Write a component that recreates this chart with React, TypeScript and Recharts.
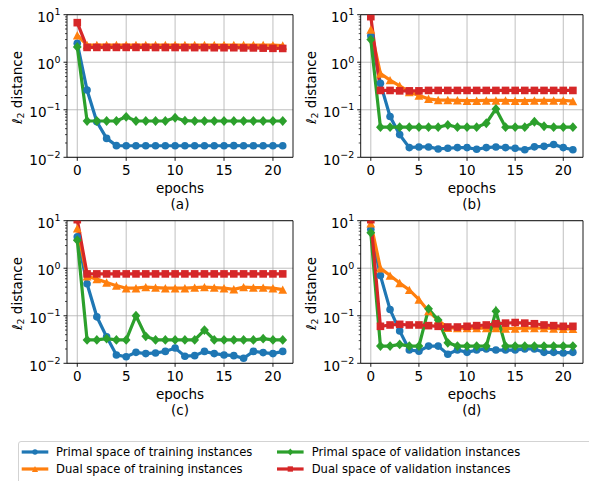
import React from 'react';
import { LineChart, Line, XAxis, YAxis, CartesianGrid, ReferenceArea } from 'recharts';

// ---------- data ----------
const epochs = [0, 1, 2, 3, 4, 5, 6, 7, 8, 9, 10, 11, 12, 13, 14, 15, 16, 17, 18, 19, 20, 21];

// (a)
const primalTrainA = [2.5, 0.26, 0.056, 0.025, 0.0176, 0.0175, 0.0175, 0.0175, 0.0175, 0.0175, 0.0175, 0.0175, 0.0175, 0.0175, 0.0175, 0.0175, 0.0176, 0.0175, 0.0175, 0.0175, 0.0175, 0.0175];
const dualTrainA = [3.7, 2.3, 2.3, 2.3, 2.3, 2.3, 2.3, 2.3, 2.3, 2.3, 2.3, 2.3, 2.3, 2.3, 2.3, 2.3, 2.3, 2.3, 2.3, 2.3, 2.28, 2.25];
const primalValA = [2.1, 0.058, 0.058, 0.058, 0.058, 0.071, 0.058, 0.058, 0.058, 0.058, 0.068, 0.059, 0.058, 0.058, 0.058, 0.058, 0.058, 0.058, 0.058, 0.058, 0.058, 0.058];
const dualValA = [6.8, 2.05, 2.05, 2.05, 2.05, 2.05, 2.05, 2.05, 2.04, 2.04, 2.04, 2.03, 2.03, 2.03, 2.02, 2.02, 2.02, 2.0, 2.0, 1.98, 1.96, 1.95];

// (b)
const primalTrainB = [3.6, 0.36, 0.072, 0.03, 0.016, 0.0165, 0.0165, 0.015, 0.0155, 0.016, 0.016, 0.0148, 0.016, 0.0165, 0.016, 0.0155, 0.0144, 0.0166, 0.017, 0.0186, 0.016, 0.0144];
const dualTrainB = [4.9, 0.58, 0.42, 0.32, 0.237, 0.2, 0.17, 0.16, 0.16, 0.158, 0.155, 0.155, 0.157, 0.157, 0.157, 0.155, 0.155, 0.157, 0.157, 0.157, 0.157, 0.152];
const primalValB = [3.0, 0.043, 0.043, 0.043, 0.043, 0.043, 0.043, 0.043, 0.048, 0.043, 0.043, 0.043, 0.052, 0.104, 0.043, 0.043, 0.043, 0.056, 0.045, 0.043, 0.043, 0.043];
const dualValB = [9.1, 0.255, 0.255, 0.25, 0.25, 0.25, 0.255, 0.255, 0.255, 0.255, 0.255, 0.255, 0.255, 0.255, 0.255, 0.255, 0.255, 0.255, 0.255, 0.255, 0.255, 0.255];

// (c)
const primalTrainC = [4.6, 0.47, 0.095, 0.036, 0.015, 0.0137, 0.017, 0.016, 0.0165, 0.0178, 0.021, 0.0141, 0.0145, 0.0178, 0.016, 0.015, 0.0145, 0.0128, 0.0178, 0.0168, 0.016, 0.0178];
const dualTrainC = [6.9, 0.68, 0.59, 0.5, 0.43, 0.38, 0.38, 0.4, 0.39, 0.38, 0.38, 0.38, 0.39, 0.4, 0.39, 0.38, 0.36, 0.4, 0.39, 0.39, 0.38, 0.355];
const primalValC = [3.9, 0.031, 0.031, 0.033, 0.031, 0.031, 0.1, 0.037, 0.031, 0.031, 0.031, 0.031, 0.031, 0.05, 0.031, 0.031, 0.031, 0.031, 0.031, 0.033, 0.031, 0.031];
const dualValC = [10.5, 0.76, 0.76, 0.76, 0.76, 0.76, 0.76, 0.76, 0.76, 0.76, 0.76, 0.76, 0.76, 0.76, 0.76, 0.76, 0.76, 0.76, 0.76, 0.76, 0.76, 0.76];

// (d)
const primalTrainD = [6.6, 0.7, 0.135, 0.048, 0.019, 0.018, 0.023, 0.023, 0.0155, 0.019, 0.017, 0.019, 0.02, 0.019, 0.019, 0.019, 0.02, 0.02, 0.017, 0.017, 0.0165, 0.017];
const dualTrainD = [8.8, 1.0, 0.7, 0.49, 0.35, 0.22, 0.125, 0.08, 0.056, 0.055, 0.055, 0.055, 0.055, 0.055, 0.054, 0.054, 0.055, 0.055, 0.055, 0.054, 0.053, 0.053];
const primalValD = [5.6, 0.023, 0.023, 0.025, 0.023, 0.023, 0.14, 0.081, 0.027, 0.023, 0.023, 0.023, 0.023, 0.125, 0.023, 0.023, 0.023, 0.023, 0.023, 0.023, 0.023, 0.023];
const dualValD = [10.5, 0.06, 0.064, 0.066, 0.064, 0.064, 0.062, 0.06, 0.058, 0.058, 0.06, 0.062, 0.064, 0.068, 0.07, 0.072, 0.07, 0.068, 0.064, 0.062, 0.06, 0.06];

const captions = ['(a)', '(b)', '(c)', '(d)'];
const xTicks = [0, 5, 10, 15, 20];
const yMajorTicks = [0.01, 0.1, 1, 10];
const yMinorTicks = [
  0.02, 0.03, 0.04, 0.05, 0.06, 0.07, 0.08, 0.09,
  0.2, 0.3, 0.4, 0.5, 0.6, 0.7, 0.8, 0.9,
  2, 3, 4, 5, 6, 7, 8, 9,
];
const seriesNames = [
  'Primal space of training instances',
  'Dual space of training instances',
  'Primal space of validation instances',
  'Dual space of validation instances',
];
const seriesKeys = ['primalTrain', 'dualTrain', 'primalVal', 'dualVal'];

const panelData = [
  [primalTrainA, dualTrainA, primalValA, dualValA],
  [primalTrainB, dualTrainB, primalValB, dualValB],
  [primalTrainC, dualTrainC, primalValC, dualValC],
  [primalTrainD, dualTrainD, primalValD, dualValD],
];

// ---------- styles ----------
const FONT = '"DejaVu Sans", sans-serif';
const AX_FS = 13.5;
const SUP_FS = 9.5;
const COLORS = ['#1f77b4', '#ff7f0e', '#2ca02c', '#d62728'];
const SHAPES = ['circle', 'triangle', 'diamond', 'square'];
const LINE_W = 3.2;

const W = 294;
const boxes = [
  { left: 0, top: 0, h: 215, plotLeft: 67, plotTop: 14.7, plotRight: 293, plotBottom: 157.3, ylabelX: 16.7 },
  { left: 295, top: 0, h: 215, plotLeft: 360.7, plotTop: 14.7, plotRight: 583, plotBottom: 157.3, ylabelX: 310.7 },
  { left: 0, top: 200, h: 230, plotLeft: 67, plotTop: 220.7, plotRight: 293, plotBottom: 363.3, ylabelX: 16.7 },
  { left: 295, top: 200, h: 230, plotLeft: 360.7, plotTop: 220.7, plotRight: 583, plotBottom: 363.3, ylabelX: 310.7 },
];

function Marker({ shape, cx, cy, color, scale = 1 }: any) {
  if (cx == null || cy == null) return null;
  const k = scale;
  if (shape === 'circle') return <circle cx={cx} cy={cy} r={3.8 * k} fill={color} />;
  if (shape === 'square') {
    const s = 7.6 * k;
    return <rect x={cx - s / 2} y={cy - s / 2} width={s} height={s} fill={color} />;
  }
  if (shape === 'triangle') {
    const hw = 4.4 * k;
    const hh = 4.2 * k;
    return <polygon points={`${cx},${cy - hh} ${cx - hw},${cy + hh} ${cx + hw},${cy + hh}`} fill={color} />;
  }
  const dx = 4.4 * k;
  const dy = 4.9 * k;
  return <polygon points={`${cx},${cy - dy} ${cx + dx},${cy} ${cx},${cy + dy} ${cx - dx},${cy}`} fill={color} />;
}

function supText(exp: number) {
  return exp < 0 ? '\u2212' + String(-exp) : String(exp);
}

const YTick = (props: any) => {
  const { x, y, payload } = props;
  const v = payload.value;
  const lg = Math.log10(v);
  const exp = Math.round(lg);
  const isMajor = Math.abs(lg - exp) < 1e-6;
  const ax = x;
  return (
    <g>
      <line x1={ax} x2={ax - (isMajor ? 3.5 : 2)} y1={y} y2={y} stroke="#000" strokeWidth={isMajor ? 0.9 : 0.7} />
      {isMajor && (
        <text x={ax - 6.5} y={y + 7.2} textAnchor="end" fontSize={AX_FS} fontFamily={FONT} fill="#000">
          10
          <tspan dy={-6.5} fontSize={SUP_FS}>{supText(exp)}</tspan>
        </text>
      )}
    </g>
  );
};

function Panel({ idx }: { idx: number }) {
  const box = boxes[idx];
  const H = box.h;
  const cols = panelData[idx];
  const data = epochs.map((e, i) => {
    const row: any = { epoch: e };
    seriesKeys.forEach((k, j) => {
      row[k] = cols[j][i];
    });
    return row;
  });
  const yAxisWidth = box.plotLeft - box.left;
  const xAxisHeight = box.top + H - box.plotBottom;
  const margin = { top: box.plotTop - box.top, right: box.left + W - box.plotRight, bottom: 0, left: 0 };
  const cx = (box.plotLeft + box.plotRight) / 2 - box.left;
  const pb = box.plotBottom - box.top;
  const cy = (box.plotTop + box.plotBottom) / 2 - box.top + 1.5;
  const yl = box.ylabelX - box.left;

  const xLabel = () => (
    <g>
      <text x={cx} y={pb + 35.2} textAnchor="middle" fontSize={AX_FS} fontFamily={FONT} fill="#000">epochs</text>
      <text x={cx} y={pb + 52} textAnchor="middle" fontSize={AX_FS} fontFamily={FONT} fill="#000">{captions[idx]}</text>
    </g>
  );
  const yLabel = () => (
    <text
      transform={`translate(${yl},${cy}) rotate(-90)`}
      textAnchor="middle"
      dominantBaseline="central"
      fontSize={AX_FS}
      fontFamily={FONT}
      fill="#000"
    >
      <tspan fontStyle="italic">ℓ</tspan>
      <tspan dy={3} fontSize={SUP_FS}>2</tspan>
      <tspan dy={-3}>{'\u00a0distance'}</tspan>
    </text>
  );

  return (
    <div style={{ position: 'absolute', left: box.left, top: box.top }}>
      <LineChart width={W} height={H} data={data} margin={margin}>
        <CartesianGrid
          horizontalValues={yMajorTicks}
          verticalValues={xTicks}
          stroke="#b0b0b0"
          strokeWidth={0.8}
        />
        <XAxis
          dataKey="epoch"
          type="number"
          domain={[-1.05, 22.05]}
          ticks={xTicks}
          allowDataOverflow
          interval={0}
          height={xAxisHeight}
          axisLine={false}
          tickLine={{ stroke: '#000', strokeWidth: 0.9 }}
          tickSize={3.5}
          tickMargin={4.8}
          tick={{ fill: '#000', fontSize: AX_FS, fontFamily: FONT }}
          label={xLabel}
        />
        <YAxis
          type="number"
          scale="log"
          domain={[0.01, 10]}
          allowDataOverflow
          ticks={[...yMajorTicks, ...yMinorTicks]}
          interval={0}
          width={yAxisWidth}
          axisLine={false}
          tickLine={false}
          tickSize={0}
          tickMargin={0}
          tick={<YTick />}
          label={yLabel}
        />
        {seriesKeys.map((k, j) => (
          <Line
            key={k}
            dataKey={k}
            name={seriesNames[j]}
            stroke={COLORS[j]}
            strokeWidth={LINE_W}
            isAnimationActive={false}
            activeDot={false}
            dot={(p: any) => (
              <Marker key={`${k}-${p.index}`} shape={SHAPES[j]} cx={p.cx} cy={p.cy} color={COLORS[j]} />
            )}
          />
        ))}
        <ReferenceArea
          x1={-1.05}
          x2={22.05}
          y1={0.01}
          y2={10}
          fill="none"
          fillOpacity={0}
          stroke="#000"
          strokeWidth={0.9}
          ifOverflow="visible"
        />
      </LineChart>
    </div>
  );
}

function LegendBox() {
  const colX = [3.7, 259];
  const textX = [38, 293.7];
  const rowY = [11, 28];
  return (
    <div
      style={{
        position: 'absolute',
        left: 18,
        top: 441,
        width: 600,
        height: 60,
        border: '1px solid #d3d3d3',
        borderRadius: 3,
        boxSizing: 'border-box',
        background: '#fff',
      }}
    >
      <svg width={600} height={60} style={{ position: 'absolute', left: -1, top: -1 }}>
        {seriesNames.map((name, i) => {
          const c = Math.floor(i / 2);
          const r = i % 2;
          const x0 = colX[c];
          const y0 = rowY[r];
          return (
            <g key={name}>
              <line x1={x0} x2={x0 + 26.6} y1={y0} y2={y0} stroke={COLORS[i]} strokeWidth={LINE_W} />
              <Marker shape={SHAPES[i]} cx={x0 + 13.3} cy={y0} color={COLORS[i]} scale={0.7} />
              <text x={textX[c]} y={y0} dominantBaseline="central" fontSize={11.6} fontFamily={FONT} fill="#000">
                {name}
              </text>
            </g>
          );
        })}
      </svg>
    </div>
  );
}

export default function App() {
  return (
    <div
      style={{
        position: 'absolute',
        left: 0,
        top: 0,
        width: 589,
        height: 481,
        overflow: 'hidden',
        background: '#fff',
        fontFamily: FONT,
      }}
    >
      {[0, 1, 2, 3].map((i) => (
        <Panel key={i} idx={i} />
      ))}
      <LegendBox />
    </div>
  );
}
